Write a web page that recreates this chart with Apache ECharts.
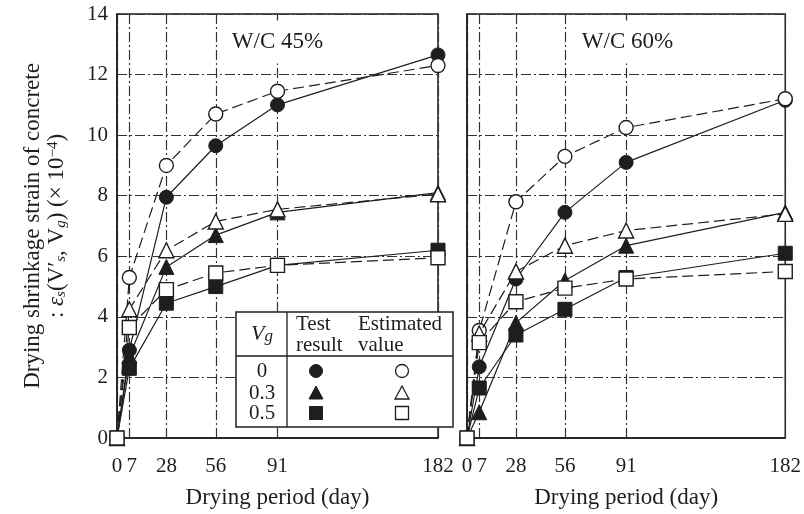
<!DOCTYPE html>
<html>
<head>
<meta charset="utf-8">
<script src="https://cdn.jsdelivr.net/npm/echarts@6/dist/echarts.min.js"></script>
<style>
  html, body { margin: 0; padding: 0; background: #fff; }
  #chart { width: 804px; height: 514px; }
</style>
</head>
<body>
<div id="chart"></div>
<script>
// Drying period (days) at which shrinkage was measured / estimated
const days = [0, 7, 28, 56, 91, 182];
const yMin = 0, yMax = 14, yStep = 2;
const panelTitles = ['W/C 45%', 'W/C 60%'];
const vgLevels = ['0', '0.3', '0.5'];

// W/C 45 % — strain (×10^-4)
const wc45Test0 = [0, 2.9, 7.95, 9.65, 11.0, 12.65];
const wc45Est0  = [0, 5.3, 9.0, 10.7, 11.45, 12.3];
const wc45Test3 = [0, 2.7, 5.65, 6.7, 7.45, 8.1];
const wc45Est3  = [0, 4.25, 6.2, 7.15, 7.55, 8.05];
const wc45Test5 = [0, 2.3, 4.45, 5.0, 5.7, 6.2];
const wc45Est5  = [0, 3.65, 4.9, 5.45, 5.7, 5.95];

// W/C 60 % — strain (×10^-4)
const wc60Test0 = [0, 2.35, 5.25, 7.45, 9.1, 11.15];
const wc60Est0  = [0, 3.55, 7.8, 9.3, 10.25, 11.2];
const wc60Test3 = [0, 0.85, 3.8, 5.2, 6.35, 7.45];
const wc60Est3  = [0, 3.45, 5.5, 6.35, 6.85, 7.4];
const wc60Test5 = [0, 1.65, 3.4, 4.25, 5.3, 6.1];
const wc60Est5  = [0, 3.15, 4.5, 4.95, 5.25, 5.5];

const SERIF = '"Liberation Serif", "Times New Roman", serif';
const INK = '#1e1e1e';
const GRID_DASH = [10, 3, 2, 3];
const EST_DASH = [11, 5];

const panels = [
  { test: [wc45Test0, wc45Test3, wc45Test5], est: [wc45Est0, wc45Est3, wc45Est5] },
  { test: [wc60Test0, wc60Test3, wc60Test5], est: [wc60Est0, wc60Est3, wc60Est5] }
];
const symbols = ['circle', 'triangle', 'rect'];
const symbolSizes = [14, 15, 14];

const grids = [
  { left: 117, top: 14, width: 321, height: 429 },
  { left: 467, top: 14, width: 321, height: 429 }
];

function toPoints(vals) { return days.map((d, i) => [d, vals[i]]); }

const series = [];
panels.forEach((p, pi) => {
  // measured values first, estimates drawn over them
  p.test.forEach((vals, k) => {
    series.push({
      type: 'line', xAxisIndex: pi, yAxisIndex: pi, z: 3 + k,
      data: toPoints(vals),
      symbol: symbols[k], symbolSize: symbolSizes[k],
      itemStyle: { color: INK, borderColor: INK, borderWidth: 1 },
      lineStyle: { color: INK, width: 1.2, type: 'solid' },
      emphasis: { disabled: true }
    });
  });
  p.est.forEach((vals, k) => {
    series.push({
      type: 'line', xAxisIndex: pi, yAxisIndex: pi, z: 6 + k,
      data: toPoints(vals),
      symbol: symbols[k], symbolSize: symbolSizes[k],
      itemStyle: { color: '#fff', borderColor: INK, borderWidth: 1.4 },
      lineStyle: { color: INK, width: 1.2, type: EST_DASH },
      emphasis: { disabled: true }
    });
  });
});

const xAxes = grids.map((g, i) => ({
  type: 'value', gridIndex: i, min: days[0], max: days[days.length - 1],
  name: 'Drying period (day)', nameLocation: 'middle', nameGap: 48,
  nameTextStyle: { fontFamily: SERIF, fontSize: 23, color: INK },
  axisLine: { show: true, lineStyle: { color: INK, width: 1.5 } },
  axisTick: { show: false, customValues: days },
  axisLabel: {
    customValues: days, fontFamily: SERIF, fontSize: 21, color: INK, margin: 18,
    // nudge the "7" away from the neighbouring "0"
    formatter: v => (v === 7 ? '{r|7}' : String(v)),
    rich: { r: { fontFamily: SERIF, fontSize: 21, color: INK, padding: [0, 0, 0, 5] } }
  },
  splitLine: { show: true, lineStyle: { color: '#333', width: 1.2, type: GRID_DASH } }
}));

const yAxes = grids.map((g, i) => ({
  type: 'value', gridIndex: i, min: yMin, max: yMax, interval: yStep,
  axisLine: { show: true, lineStyle: { color: INK, width: 1.5 } },
  axisTick: { show: false },
  axisLabel: { show: i === 0, fontFamily: SERIF, fontSize: 21, color: INK, margin: 9 },
  splitLine: { show: true, lineStyle: { color: '#333', width: 1.2, type: GRID_DASH } }
}));

// Table-style key (V_g, measured, estimated)
const box = { x: 236, y: 312, w: 217, h: 115, headerH: 44, colX: 287 };
const keyFont = '21px ' + SERIF;
const rowY = [371, 393, 413];
const graphic = [];

panelTitles.forEach((t, i) => {
  graphic.push({
    type: 'text', x: grids[i].left + grids[i].width / 2, y: 42, z: 50,
    style: {
      text: t, font: '23px ' + SERIF, fill: INK, align: 'center', verticalAlign: 'middle',
      backgroundColor: '#fff', padding: [10, 3]
    }
  });
});

graphic.push(
  { type: 'text', x: 33, y: 226, rotation: Math.PI / 2, z: 50,
    style: { text: 'Drying shrinkage strain of concrete', font: '23px ' + SERIF, fill: INK,
             align: 'center', verticalAlign: 'middle' } },
  { type: 'text', x: 57, y: 226, rotation: Math.PI / 2, z: 50,
    style: {
      text: ': {i|ε}{sub|s}(V\u2032{sub|s}, V{sub|g}) (\u00d7 10{sup|\u22124})',
      font: '23px ' + SERIF, fill: INK, align: 'center', verticalAlign: 'middle',
      rich: {
        i: { fontFamily: SERIF, fontSize: 23, fontStyle: 'italic', fill: INK },
        sub: { fontFamily: SERIF, fontSize: 15, fontStyle: 'italic', fill: INK, verticalAlign: 'bottom', padding: [6, 0, 0, 0] },
        sup: { fontFamily: SERIF, fontSize: 15, fill: INK, verticalAlign: 'top', padding: [0, 0, 8, 0] }
      }
    } }
);

graphic.push(
  { type: 'rect', z: 60, shape: { x: box.x, y: box.y, width: box.w, height: box.h },
    style: { fill: '#fff', stroke: INK, lineWidth: 1.5 } },
  { type: 'line', z: 61, shape: { x1: box.x, y1: box.y + box.headerH, x2: box.x + box.w, y2: box.y + box.headerH },
    style: { stroke: INK, lineWidth: 1.3 } },
  { type: 'line', z: 61, shape: { x1: box.colX, y1: box.y, x2: box.colX, y2: box.y + box.h },
    style: { stroke: INK, lineWidth: 1.3 } },
  { type: 'text', z: 62, x: 262, y: 334,
    style: { text: '{v|V}{g|g}', align: 'center', verticalAlign: 'middle', fill: INK,
      rich: {
        v: { fontFamily: SERIF, fontSize: 22, fontStyle: 'italic', fill: INK },
        g: { fontFamily: SERIF, fontSize: 17, fontStyle: 'italic', fill: INK, padding: [5, 0, 0, 0] }
      } } },
  { type: 'text', z: 62, x: 296, y: 324, style: { text: 'Test', font: keyFont, fill: INK, align: 'left', verticalAlign: 'middle' } },
  { type: 'text', z: 62, x: 296, y: 345, style: { text: 'result', font: keyFont, fill: INK, align: 'left', verticalAlign: 'middle' } },
  { type: 'text', z: 62, x: 358, y: 324, style: { text: 'Estimated', font: keyFont, fill: INK, align: 'left', verticalAlign: 'middle' } },
  { type: 'text', z: 62, x: 358, y: 345, style: { text: 'value', font: keyFont, fill: INK, align: 'left', verticalAlign: 'middle' } }
);

vgLevels.forEach((lv, k) => {
  const cy = rowY[k];
  graphic.push({ type: 'text', z: 62, x: 262, y: cy,
    style: { text: lv, font: keyFont, fill: INK, align: 'center', verticalAlign: 'middle' } });
  [316, 402].forEach((cx, j) => {
    const filled = j === 0;
    const st = filled ? { fill: INK, stroke: INK, lineWidth: 1 } : { fill: '#fff', stroke: INK, lineWidth: 1.3 };
    if (k === 0) {
      graphic.push({ type: 'circle', z: 62, shape: { cx: cx, cy: cy, r: 6.5 }, style: st });
    } else if (k === 1) {
      graphic.push({ type: 'polygon', z: 62,
        shape: { points: [[cx, cy - 7], [cx + 7, cy + 6], [cx - 7, cy + 6]] }, style: st });
    } else {
      graphic.push({ type: 'rect', z: 62, shape: { x: cx - 6.5, y: cy - 6.5, width: 13, height: 13 }, style: st });
    }
  });
});

const chart = echarts.init(document.getElementById('chart'), null, { renderer: 'canvas' });
chart.setOption({
  animation: false,
  backgroundColor: '#fff',
  grid: grids.map(g => Object.assign({ show: true, borderColor: INK, borderWidth: 1.5, backgroundColor: 'transparent' }, g)),
  xAxis: xAxes,
  yAxis: yAxes,
  series: series,
  graphic: graphic
});
</script>
</body>
</html>
